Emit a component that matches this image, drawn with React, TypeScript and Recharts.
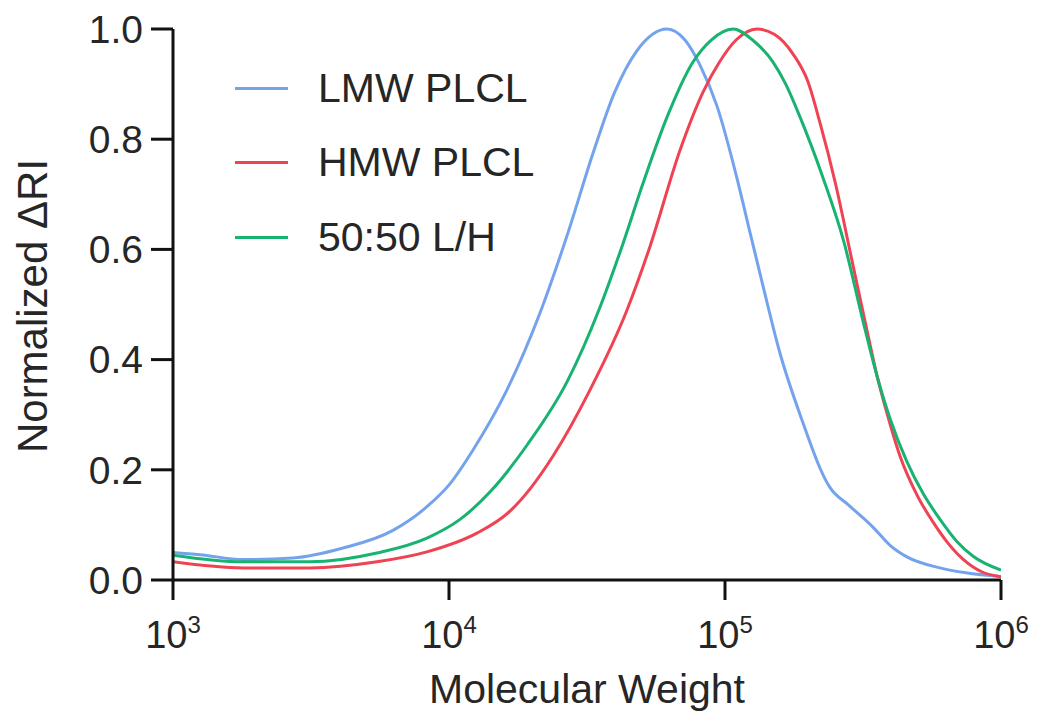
import React from "react"
import { Line, LineChart, XAxis, YAxis } from "recharts"

const lmwLogM = [3.0, 3.098, 3.254, 3.435, 3.616, 3.797, 3.92, 4.004, 4.087, 4.21, 4.33, 4.431, 4.522, 4.6, 4.68, 4.79, 4.855, 4.909, 4.971, 5.043, 5.091, 5.138, 5.199, 5.272, 5.38, 5.45, 5.536, 5.6, 5.659, 5.779, 5.873, 6.0]
const lmwRI = [0.05, 0.046, 0.037, 0.04, 0.058, 0.09, 0.133, 0.175, 0.236, 0.345, 0.485, 0.63, 0.775, 0.885, 0.96, 1.0, 0.98, 0.935, 0.86, 0.73, 0.63, 0.533, 0.412, 0.3, 0.168, 0.135, 0.096, 0.062, 0.042, 0.022, 0.013, 0.006]

const hmwLogM = [3.0, 3.254, 3.496, 3.739, 3.92, 4.101, 4.221, 4.293, 4.377, 4.511, 4.645, 4.728, 4.837, 4.92, 4.98, 5.04, 5.116, 5.18, 5.246, 5.3, 5.344, 5.4, 5.46, 5.52, 5.551, 5.58, 5.634, 5.7, 5.754, 5.8, 5.862, 5.93, 6.0]
const hmwRI = [0.033, 0.022, 0.022, 0.033, 0.051, 0.085, 0.125, 0.165, 0.225, 0.345, 0.49, 0.605, 0.78, 0.885, 0.94, 0.98, 1.0, 0.99, 0.955, 0.905, 0.83, 0.72, 0.58, 0.44, 0.37, 0.315, 0.225, 0.15, 0.105, 0.072, 0.038, 0.015, 0.006]

const mixLogM = [3.0, 3.254, 3.496, 3.739, 3.92, 4.04, 4.149, 4.283, 4.428, 4.547, 4.63, 4.703, 4.79, 4.884, 4.95, 5.029, 5.1, 5.174, 5.22, 5.272, 5.355, 5.43, 5.5, 5.551, 5.6, 5.659, 5.72, 5.779, 5.84, 5.899, 6.0]
const mixRI = [0.045, 0.033, 0.033, 0.049, 0.076, 0.11, 0.16, 0.245, 0.36, 0.495, 0.61, 0.72, 0.84, 0.94, 0.98, 1.0, 0.98, 0.94, 0.9, 0.84, 0.73, 0.615, 0.47, 0.37, 0.29, 0.215, 0.155, 0.11, 0.07, 0.043, 0.018]

const xTicks = [3, 4, 5, 6]
const yTicks = [0, 0.2, 0.4, 0.6, 0.8, 1.0]

const seriesNames = ["LMW PLCL", "HMW PLCL", "50:50 L/H"]
const colors = ["#74a3ee", "#ef4354", "#18b271"]

const toRows = (xs: number[], ys: number[]) => xs.map((logM, i) => ({ logM, ri: ys[i] }))

const FONT = '"Liberation Sans", Arial, sans-serif'
const INK = "#262626"

const PowerTick = ({ x, y, payload }: any) => (
  <text x={x} y={y + 46} textAnchor="middle" fill={INK} fontFamily={FONT} fontSize={38}>
    10
    <tspan dy={-15} fontSize={24}>
      {payload.value}
    </tspan>
  </text>
)

const LegendBox = () => (
  <div style={{ position: "absolute", left: 235, top: 51, fontFamily: FONT, color: INK, fontSize: 41 }}>
    {seriesNames.map((name, i) => (
      <div key={name} style={{ display: "flex", alignItems: "center", height: 74.5 }}>
        <span style={{ display: "inline-block", width: 53, height: 3, background: colors[i], marginRight: 30 }} />
        <span style={{ lineHeight: 1 }}>{name}</span>
      </div>
    ))}
  </div>
)

export default function App() {
  const series = [toRows(lmwLogM, lmwRI), toRows(hmwLogM, hmwRI), toRows(mixLogM, mixRI)]

  return (
    <div style={{ position: "absolute", left: 0, top: 0, width: 1040, height: 721, background: "#fff" }}>
      <LineChart width={1040} height={721} margin={{ top: 29, right: 39, left: 0, bottom: 0 }}>
        <XAxis
          dataKey="logM"
          type="number"
          domain={[3, 6]}
          ticks={xTicks}
          allowDataOverflow
          height={141}
          stroke="#111"
          strokeWidth={3}
          tickSize={20}
          tick={<PowerTick />}
          label={{
            content: () => (
              <text x={587} y={703} textAnchor="middle" fill={INK} fontFamily={FONT} fontSize={41}>
                Molecular Weight
              </text>
            ),
          }}
        />
        <YAxis
          type="number"
          domain={[0, 1]}
          ticks={yTicks}
          width={173}
          stroke="#111"
          strokeWidth={3}
          tickSize={22}
          tickMargin={8}
          tickFormatter={(v: number) => v.toFixed(1)}
          tick={{ fill: INK, fontSize: 39, fontFamily: FONT }}
          label={{
            content: () => (
              <text
                x={32}
                y={306}
                transform="rotate(-90 32 306)"
                textAnchor="middle"
                dominantBaseline="central"
                fill={INK}
                fontFamily={FONT}
                fontSize={42}
              >
                Normalized ΔRI
              </text>
            ),
          }}
        />
        {series.map((rows, i) => (
          <Line
            key={seriesNames[i]}
            data={rows}
            dataKey="ri"
            name={seriesNames[i]}
            type="monotone"
            stroke={colors[i]}
            strokeWidth={3}
            dot={false}
            isAnimationActive={false}
          />
        ))}
      </LineChart>
      <LegendBox />
    </div>
  )
}
